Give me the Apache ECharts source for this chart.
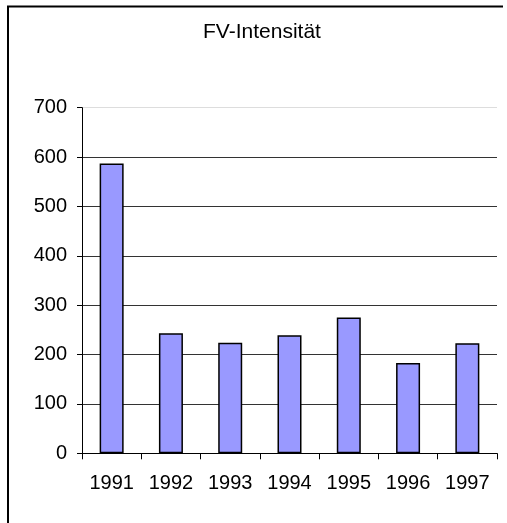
<!DOCTYPE html>
<html>
<head>
<meta charset="utf-8">
<script src="https://cdn.jsdelivr.net/npm/echarts@6/dist/echarts.min.js"></script>
<style>
html,body{margin:0;padding:0;background:#fff;}
#c{width:507px;height:523px;}
</style>
</head>
<body>
<div id="c"></div>
<script>
const titleText = 'FV-Intensität';
const categories = ['1991', '1992', '1993', '1994', '1995', '1996', '1997'];
const values = [587, 243, 224, 239, 275, 183, 223];
const yTicks = [0, 100, 200, 300, 400, 500, 600, 700];

const chart = echarts.init(document.getElementById('c'), null, {renderer: 'canvas'});
const font = 'Liberation Sans, Arial, sans-serif';
chart.setOption({
  animation: false,
  backgroundColor: '#fff',
  title: {
    text: titleText,
    left: 203,
    top: 22,
    padding: 0,
    textStyle: {fontFamily: font, fontSize: 21, fontWeight: 'normal', color: '#000'}
  },
  graphic: [
    {type: 'line', shape: {x1: 7, y1: 6.5, x2: 503, y2: 6.5}, style: {stroke: '#000', lineWidth: 2}},
    {type: 'line', shape: {x1: 8, y1: 6, x2: 8, y2: 523}, style: {stroke: '#000', lineWidth: 2}}
  ],
  grid: {left: 82, right: 10, top: 107.7, bottom: 69.7, containLabel: false},
  xAxis: {
    type: 'category',
    data: categories,
    boundaryGap: true,
    axisLine: {lineStyle: {color: '#000', width: 1}},
    axisTick: {show: true, length: 6, inside: false, lineStyle: {color: '#000'}},
    axisLabel: {fontFamily: font, fontSize: 20, color: '#000', margin: 20}
  },
  yAxis: {
    type: 'value',
    min: yTicks[0],
    max: yTicks[yTicks.length - 1],
    interval: 100,
    axisLine: {show: true, lineStyle: {color: '#000', width: 1}},
    axisTick: {show: true, length: 5, inside: false, lineStyle: {color: '#000'}},
    axisLabel: {fontFamily: font, fontSize: 20, color: '#000', margin: 15},
    splitLine: {show: true, lineStyle: {color: ['#000', '#333', '#333', '#333', '#333', '#333', '#333', '#ddd'], width: 1}}
  },
  series: [{
    type: 'bar',
    data: values,
    barWidth: 24,
    itemStyle: {color: '#9999FF', borderColor: '#000', borderWidth: 1.5}
  }]
});
</script>
</body>
</html>
